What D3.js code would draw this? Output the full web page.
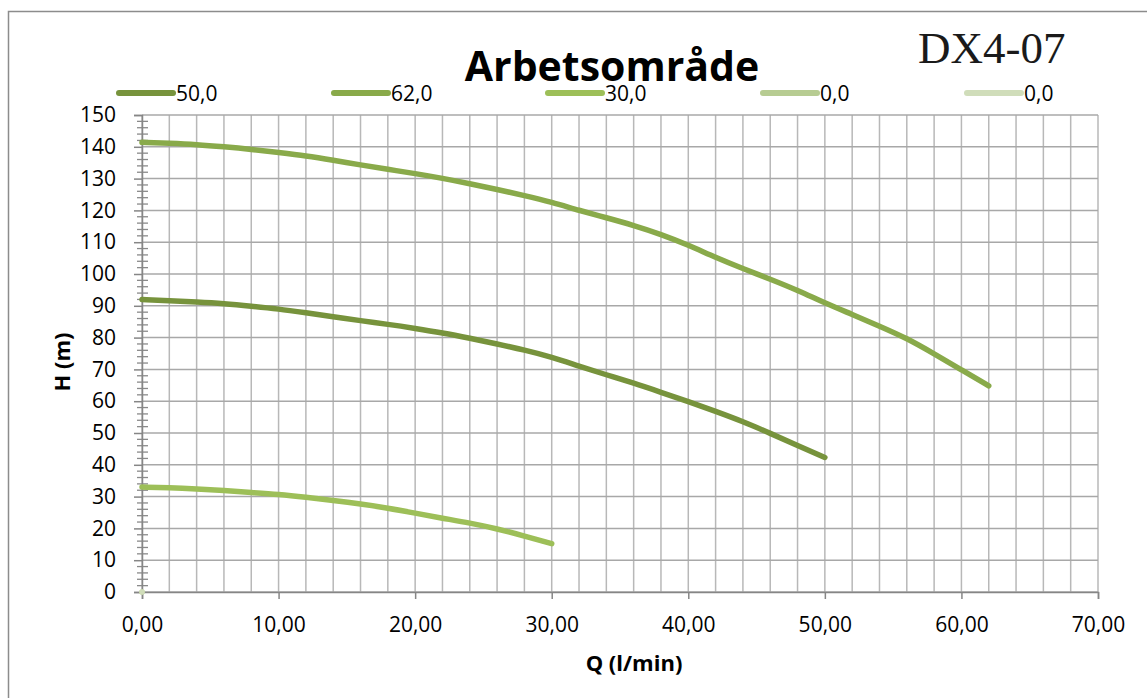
<!DOCTYPE html>
<html>
<head>
<meta charset="utf-8">
<script src="https://cdn.jsdelivr.net/npm/d3@7"></script>
<style>
  html, body { margin: 0; padding: 0; background: #fff; }
  svg { display: block; }
</style>
</head>
<body>
<script>
// ---- data ----
const seriesNames = ["50,0", "62,0", "30,0", "0,0", "0,0"];
const seriesColors = ["#77933c", "#89aa4a", "#9dbf58", "#b7cc92", "#d0ddba"];

const q50 = [0,2,4,6,8,10,12,14,16,18,20,22,24,26,28,30,32,34,36,38,40,42,44,46,48,50];
const h50 = [92.0,91.6,91.2,90.7,89.9,89.0,87.8,86.6,85.3,84.2,82.9,81.5,79.8,78.0,76.1,73.9,71.0,68.3,65.7,62.8,59.9,56.8,53.6,49.9,46.1,42.3];

const q62 = [0,2,4,6,8,10,12,14,16,18,20,22,24,26,28,30,32,34,36,38,40,42,44,46,48,50,52,54,56,58,60,62];
const h62 = [141.4,141.1,140.7,140.0,139.2,138.2,137.2,135.8,134.3,132.9,131.6,130.1,128.4,126.6,124.7,122.6,120.0,117.7,115.3,112.5,109.1,105.2,101.7,98.4,94.9,90.9,87.3,83.6,79.8,74.9,69.9,64.8];

const q30 = [0,2,4,6,8,10,12,14,16,18,20,22,24,26,28,30];
const h30 = [33.0,32.8,32.4,31.9,31.3,30.7,29.8,28.8,27.7,26.4,24.8,23.2,21.7,19.9,17.6,15.2];

const q0a = [0], h0a = [0];
const q0b = [0], h0b = [0];

const xTicks = [0,10,20,30,40,50,60,70];
const yTicks = [0,10,20,30,40,50,60,70,80,90,100,110,120,130,140,150];

const titleText = "Arbetsområde";
const cornerText = "DX4-07";
const xTitle = "Q (l/min)";
const yTitle = "H (m)";

// ---- drawing ----
const W = 1147, H = 698;
const svg = d3.select("body").append("svg").attr("width", W).attr("height", H);

const x = d3.scaleLinear().domain([0, 70]).range([142, 1098]);
const y = d3.scaleLinear().domain([0, 150]).range([592, 115]);

// outer frame
svg.append("path").attr("d", "M8.5,705 V11.5 H1160")
  .attr("fill", "none").attr("stroke", "#8c8c8c").attr("stroke-width", 1.5);

// gridlines
const gv = d3.range(0, 70.001, 2);
svg.append("g").selectAll("line").data(gv).join("line")
  .attr("x1", d => x(d)).attr("x2", d => x(d))
  .attr("y1", y(0)).attr("y2", y(150))
  .attr("stroke", "#b8b8b8").attr("stroke-width", 1.5);
svg.append("g").selectAll("line").data(yTicks).join("line")
  .attr("x1", x(0)).attr("x2", x(70))
  .attr("y1", d => y(d)).attr("y2", d => y(d))
  .attr("stroke", "#a8a8a8").attr("stroke-width", 1.5);

const font = "'Open Sans', sans-serif";

// y axis minor ticks (cross)
const yMinor = d3.range(0, 150.001, 2).filter(d => d % 10 !== 0);
svg.append("g").selectAll("line").data(yMinor).join("line")
  .attr("x1", x(0) - 5).attr("x2", x(0) + 6)
  .attr("y1", d => y(d)).attr("y2", d => y(d))
  .attr("stroke", "#8a8a8a").attr("stroke-width", 1.3);

// y axis
const yAxis = d3.axisLeft(y).tickValues(yTicks).tickSize(8).tickPadding(18).tickFormat(d3.format("d"));
const gy = svg.append("g").attr("transform", `translate(${x(0)},0)`).call(yAxis);
gy.select(".domain").attr("stroke", "#868686").attr("stroke-width", 1.5);
gy.selectAll(".tick line").attr("stroke", "#868686").attr("stroke-width", 1.5);
gy.selectAll(".tick text").attr("font-family", font).attr("font-size", 21).attr("fill", "#000");

// x axis
const xFmt = d => d3.format(".2f")(d).replace(".", ",");
const xAxis = d3.axisBottom(x).tickValues(xTicks).tickSize(7).tickPadding(18).tickFormat(xFmt);
const gx = svg.append("g").attr("transform", `translate(0,${y(0)})`).call(xAxis);
gx.select(".domain").attr("stroke", "#868686").attr("stroke-width", 1.5);
gx.selectAll(".tick line").attr("stroke", "#868686").attr("stroke-width", 1.5);
gx.selectAll(".tick text").attr("font-family", font).attr("font-size", 21).attr("fill", "#000");

// series
const series = [
  { q: q50, h: h50 },
  { q: q62, h: h62 },
  { q: q30, h: h30 },
  { q: q0a, h: h0a },
  { q: q0b, h: h0b }
];
const line = d3.line().x(d => x(d[0])).y(d => y(d[1])).curve(d3.curveBasis);
series.forEach((s, i) => {
  const pts = s.q.map((v, j) => [v, s.h[j]]);
  const dstr = pts.length > 1 ? line(pts) : `M${x(pts[0][0])},${y(pts[0][1])}h0`;
  svg.append("path").attr("d", dstr)
    .attr("fill", "none").attr("stroke", seriesColors[i])
    .attr("stroke-width", 5.5).attr("stroke-linecap", "round").attr("stroke-linejoin", "round");
});

// legend
const legendX = [119, 334, 548, 763, 967];
const legY = 93;
const lg = svg.append("g");
seriesNames.forEach((n, i) => {
  lg.append("line").attr("x1", legendX[i]).attr("x2", legendX[i] + 54)
    .attr("y1", legY).attr("y2", legY)
    .attr("stroke", seriesColors[i]).attr("stroke-width", 6).attr("stroke-linecap", "round");
  lg.append("text").attr("x", legendX[i] + 57).attr("y", legY + 8)
    .attr("font-family", font).attr("font-size", 21).attr("fill", "#000").text(n);
});

// title
svg.append("text").attr("x", 612).attr("y", 81).attr("text-anchor", "middle")
  .attr("font-family", font).attr("font-weight", "bold").attr("font-size", 41)
  .attr("fill", "#000").text(titleText);

// corner label
svg.append("text").attr("x", 918).attr("y", 63)
  .attr("font-family", "'Liberation Serif', 'Times New Roman', serif").attr("font-size", 45)
  .attr("fill", "#1a1a1a").text(cornerText);

// axis titles
svg.append("text").attr("x", 634).attr("y", 671).attr("text-anchor", "middle")
  .attr("font-family", font).attr("font-weight", "bold").attr("font-size", 22)
  .attr("fill", "#000").text(xTitle);
svg.append("text").attr("transform", "translate(70,362) rotate(-90)").attr("text-anchor", "middle")
  .attr("font-family", font).attr("font-weight", "bold").attr("font-size", 22)
  .attr("fill", "#000").text(yTitle);
</script>
</body>
</html>
